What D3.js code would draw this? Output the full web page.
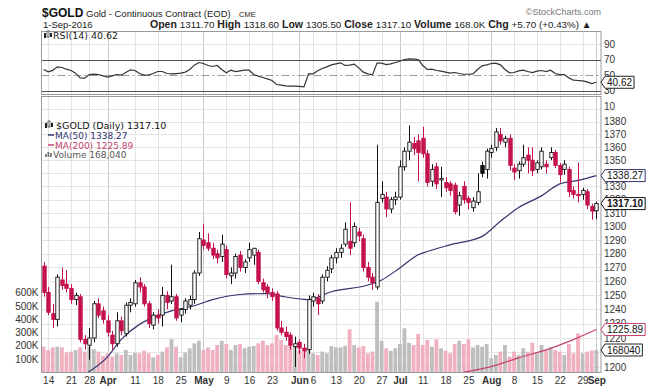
<!DOCTYPE html>
<html>
<head>
<meta charset="utf-8">
<title>$GOLD Daily</title>
<script src="https://cdn.jsdelivr.net/npm/d3@7"></script>
<style>
  html, body { margin: 0; padding: 0; background: #fff; overflow: hidden; }
  svg { display: block; font-family: "Liberation Sans", Arial, sans-serif; }
  .grid line { stroke: #e4e4e4; shape-rendering: crispEdges; }
  .grid line.month { stroke: #c6c6c6; }
  .axis text { fill: #333; font-size: 10px; }
  .axis path, .axis line { display: none; }
  .legend { font-family: "DejaVu Sans", Verdana, sans-serif; font-size: 9px; }
</style>
</head>
<body>
<svg id="chart" width="661" height="386"></svg>
<script>
// trading days, 11-Mar-2016 .. 1-Sep-2016
const dates = [
  "03-11","03-14","03-15","03-16","03-17","03-18","03-21","03-22","03-23","03-24","03-28","03-29","03-30","03-31",
  "04-01","04-04","04-05","04-06","04-07","04-08","04-11","04-12","04-13","04-14","04-15","04-18","04-19","04-20","04-21","04-22","04-25","04-26","04-27","04-28","04-29",
  "05-02","05-03","05-04","05-05","05-06","05-09","05-10","05-11","05-12","05-13","05-16","05-17","05-18","05-19","05-20","05-23","05-24","05-25","05-26","05-27","05-31",
  "06-01","06-02","06-03","06-06","06-07","06-08","06-09","06-10","06-13","06-14","06-15","06-16","06-17","06-20","06-21","06-22","06-23","06-24","06-27","06-28","06-29","06-30",
  "07-01","07-05","07-06","07-07","07-08","07-11","07-12","07-13","07-14","07-15","07-18","07-19","07-20","07-21","07-22","07-25","07-26","07-27","07-28","07-29",
  "08-01","08-02","08-03","08-04","08-05","08-08","08-09","08-10","08-11","08-12","08-15","08-16","08-17","08-18","08-19","08-22","08-23","08-24","08-25","08-26","08-29","08-30","08-31",
  "09-01"
];
const open = [
  1271,1252,1237,1233,1261,1258,1255,1247,1249,1219, 1215,1220,1244,1239,1232,1222,1216,1232,1223,1243,
  1244,1259,1256,1244,1229,1236,1236,1250,1246,1249, 1236,1240,1243,1247,1266,1290,1288,1284,1280,1278,
  1283,1264,1266,1279,1270,1277,1279,1281,1259,1256, 1252,1251,1227,1224,1222,1214,1217,1213,1212,1246,
  1248,1246,1263,1269,1277,1281,1287,1289,1288,1296, 1291,1270,1263,1256,1321,1322,1313,1320,1322,1345,
  1357,1363,1365,1367,1355,1334,1345,1335,1333,1332, 1331,1316,1330,1321,1314,1318,1346,1343,1356,1360,
  1370,1364,1367,1344,1342,1347,1354,1350,1343,1345, 1347,1352,1356,1346,1343,1343,1327,1324,1324,1326,
  1315,1311.7
];
const high = [
  1274,1256,1244,1265,1270,1268,1258,1252,1251,1222, 1227,1246,1248,1242,1236,1225,1238,1235,1245,1248,
  1261,1263,1258,1246,1238,1240,1256,1253,1272,1251, 1241,1248,1250,1268,1296,1302,1295,1288,1283,1294,
  1286,1270,1280,1282,1276,1288,1284,1283,1262,1258, 1255,1253,1232,1228,1224,1221,1219,1216,1250,1252,
  1251,1265,1271,1279,1284,1287,1303,1318,1303,1299, 1294,1274,1266,1362,1334,1326,1322,1326,1350,1360,
  1377,1368,1370,1376,1358,1347,1348,1345,1337,1334, 1333,1326,1334,1323,1322,1340,1349,1359,1362,1375,
  1375,1369,1370,1347,1349,1362,1360,1360,1350,1360, 1350,1360,1358,1348,1350,1345,1330,1348,1329,1328,
  1317,1318.6
];
const low = [
  1249,1236,1227,1228,1254,1252,1244,1243,1217,1212, 1205,1217,1234,1230,1221,1212,1214,1222,1221,1238,
  1242,1252,1242,1227,1226,1230,1228,1240,1244,1232, 1231,1237,1240,1244,1264,1283,1282,1276,1273,1274,
  1262,1258,1262,1267,1266,1274,1272,1258,1252,1248, 1246,1225,1222,1218,1212,1200,1209,1206,1209,1242,
  1236,1244,1260,1266,1273,1277,1285,1279,1285,1289, 1267,1260,1254,1254,1318,1307,1310,1316,1320,1342,
  1350,1354,1334,1352,1330,1330,1328,1322,1326,1323, 1309,1308,1317,1313,1311,1316,1337,1336,1352,1357,
  1362,1360,1342,1335,1336,1345,1340,1338,1340,1343, 1340,1350,1344,1333,1339,1322,1321,1318,1320,1313,
  1305,1305.5
];
const close = [
  1252,1238,1233,1263,1257,1255,1247,1250,1219,1216, 1220,1244,1236,1233,1224,1216,1232,1225,1243,1245,
  1259,1256,1244,1230,1236,1234,1250,1245,1249,1234, 1240,1246,1247,1266,1291,1286,1284,1279,1277,1287,
  1265,1266,1278,1270,1274,1283,1284,1260,1254,1252, 1249,1227,1224,1221,1215,1216,1213,1211,1247,1249,
  1244,1263,1268,1277,1281,1284,1298,1284,1300,1293, 1270,1263,1259,1318,1324,1313,1320,1322,1345,1357,
  1364,1359,1356,1355,1333,1343,1332,1336,1329,1327, 1311,1323,1320,1318,1319,1326,1340,1357,1359,1372,
  1365,1367,1346,1341,1347,1352,1350,1342,1348,1357, 1345,1356,1346,1339,1347,1326,1324,1323,1327,1316,
  1311.4,1317.1
];
// volume in thousands
const volume = [
  193,168,188,193,188,148,156,168,188,156, 193,173,156,123,143,118,143,131,168,131,
  148,143,163,143,113,131,156,188,249,193, 113,148,181,218,238,168,188,168,206,238,
  213,168,206,213,181,193,198,218,238,206, 218,281,243,206,223,198,168,156,181,143,
  131,156,143,198,188,188,200,324,206,188, 198,143,156,532,238,181,161,181,213,332,
  223,206,289,206,243,193,249,181,163,143, 213,238,213,249,188,206,193,213,106,131,
  156,206,118,156,131,181,156,223,143,206, 168,188,168,156,131,213,143,294,143,156,
  163,168.04
];
const rsi = [
  57,54,56,60.5,59.7,57.5,55.8,52.4,46.3,45.9, 50.6,51,50.6,48.9,47.2,48.9,50.6,49.8,53.2,56.7,
  55.8,51.9,49.8,49.8,51.9,54.5,54.5,51.9,51.5,51.9, 52.4,53.7,57.1,62.7,66.1,64.8,62.3,61,62.3,57.1,
  52.8,56.2,54.5,55.4,56.2,56.2,50.6,48.5,46.8,45, 42.9,37.7,36.9,36,35.6,35.6,35.2,34.7,51.5,51.5,
  55.4,58.4,60.5,63.1,64.4,65.7,62.3,62.7,64,59.2, 53.7,51.5,50.2,65.3,65.3,63.5,64.4,66.1,67.8,70,
  70.9,70.4,70,62.3,57.1,57.5,55.8,54.9,53.7,52.4, 53.2,51.9,51,51,51.5,57.1,61.8,63.1,64.8,65.3,
  63.1,57.1,52.8,53.2,55.4,56.2,54.5,53.2,54.9,55.8, 54.5,56.2,51.9,50.6,50.6,46.3,43.3,42.9,42.5,41.2,
  39,40.62
];
// moving averages
const ma50Dates = ["03-24","04-01","04-06","04-12","04-14","04-21","04-28","05-04","05-12","05-20","05-25","06-03","06-10","06-22","06-27","07-01","07-08","07-12","07-19","07-28","08-03","08-09","08-16","08-22","08-26","09-01"];
const ma50 = [1195,1207,1219,1229.5,1233,1239,1242.6,1247,1250.6,1251.3,1249.4,1247,1252.6,1257.4,1261,1269.7,1279.2,1281.6,1286.5,1292.7,1303.9,1314.2,1322.9,1332,1334.6,1338.27];
const ma200Dates = ["07-22","08-01","08-09","08-17","08-25","09-01"];
const ma200 = [1196.5,1200.3,1206.3,1211.8,1218.9,1225.89];

const tickDates = ["03-14","03-21","03-28","04-01","04-11","04-18","04-25","05-02","05-09","05-16","05-23","06-01","06-06","06-13","06-20","06-27","07-01","07-11","07-18","07-25","08-01","08-08","08-15","08-22","08-29","09-01"];
const tickLabels = ["14","21","28","Apr","11","18","25","May","9","16","23","Jun","6","13","20","27","Jul","11","18","25","Aug","8","15","22","29","Sep"];
const monthTicks = ["04-01","05-02","06-01","07-01","08-01","09-01"];
const priceTicks = [1200,1210,1220,1230,1240,1250,1260,1270,1280,1290,1300,1310,1320,1330,1340,1350,1360,1370,1380];
const priceGrid = priceTicks.concat([1390]);
const rsiTicks = [10,30,50,70,90];
const volTicks = [100,200,300,400,500,600];

const red = '#c4124a', black = '#111';
const left = 41.5, right = 601;
const rsiTop = 31, rsiBot = 94, mainTop = 96, mainBot = 372;

const svg = d3.select('#chart');
const x = d3.scalePoint().domain(dates).range([43.6, 596.3]);
const yPrice = d3.scaleLog().domain([1200, 1380]).range([367, 121.7]);
const yVol = d3.scaleLinear().domain([0, 600]).range([372.3, 292.7]);
const yRsi = d3.scaleLinear().domain([30, 70]).range([90.5, 59.5]);

const defs = svg.append('defs');
defs.append('clipPath').attr('id', 'clipMain').append('rect')
  .attr('x', left).attr('y', mainTop).attr('width', right - left).attr('height', mainBot - mainTop);
defs.append('clipPath').attr('id', 'clipRsi').append('rect')
  .attr('x', left).attr('y', rsiTop).attr('width', right - left).attr('height', rsiBot - rsiTop);

// ---- header text
svg.append('text').attr('x', 42).attr('y', 17).attr('font-size', 12).attr('font-weight', 'bold')
  .attr('fill', '#111').text('$GOLD');
svg.append('text').attr('x', 86).attr('y', 17).attr('font-size', 9.5).attr('fill', '#222')
  .text('Gold - Continuous Contract (EOD)');
svg.append('text').attr('x', 239).attr('y', 17).attr('font-size', 7.5).attr('fill', '#222').text('CME');
svg.append('text').attr('x', 601).attr('y', 15).attr('font-size', 9).attr('text-anchor', 'end')
  .attr('fill', '#777').text('\u00A9StockCharts.com');
svg.append('text').attr('x', 43).attr('y', 28).attr('font-size', 9.5).attr('fill', '#222').text('1-Sep-2016');

const quote = [['Open', '1311.70'], ['High', '1318.60'], ['Low', '1305.50'], ['Close', '1317.10'],
  ['Volume', '168.0K'], ['Chg', '+5.70 (+0.43%) \u25B2']];
const q = svg.append('text').attr('x', 150).attr('y', 28).attr('font-size', 9.8).attr('fill', '#222');
quote.forEach(([k, v], i) => {
  q.append('tspan').attr('font-weight', 'bold').attr('font-size', 10.5).text((i ? ' ' : '') + k + ' ');
  q.append('tspan').text(v);
});

// ---- grids
function vGrid(y0, y1) {
  svg.append('g').attr('class', 'grid').selectAll('line').data(tickDates).join('line')
    .attr('class', d => monthTicks.includes(d) ? 'month' : null)
    .attr('x1', d => Math.round(x(d)) + 0.5).attr('x2', d => Math.round(x(d)) + 0.5)
    .attr('y1', y0).attr('y2', y1);
}
vGrid(rsiTop, rsiBot);
vGrid(mainTop, mainBot);

svg.append('g').attr('class', 'grid').selectAll('line').data(priceGrid).join('line')
  .attr('x1', left).attr('x2', right)
  .attr('y1', d => Math.round(yPrice(d)) + 0.5).attr('y2', d => Math.round(yPrice(d)) + 0.5);

// ---- RSI panel
svg.append('line').attr('x1', left).attr('x2', right).attr('y1', Math.round(yRsi(90)) + 0.5)
  .attr('y2', Math.round(yRsi(90)) + 0.5).attr('stroke', '#e4e4e4');
[70, 30].forEach(v => svg.append('line').attr('x1', left).attr('x2', right)
  .attr('y1', Math.round(yRsi(v)) + 0.5).attr('y2', Math.round(yRsi(v)) + 0.5)
  .attr('stroke', '#555').attr('stroke-width', 1));
svg.append('line').attr('x1', left).attr('x2', right).attr('y1', Math.round(yRsi(50)) + 0.5)
  .attr('y2', Math.round(yRsi(50)) + 0.5).attr('stroke', '#999').attr('stroke-width', 1.2)
  .attr('stroke-dasharray', '8,3,2,3');

svg.append('path').datum(rsi).attr('clip-path', 'url(#clipRsi)')
  .attr('fill', 'none').attr('stroke', '#333').attr('stroke-width', 1.2)
  .attr('d', d3.line().x((d, i) => x(dates[i])).y(d => yRsi(d)));

// ---- volume
svg.append('g').attr('clip-path', 'url(#clipMain)').selectAll('rect').data(volume).join('rect')
  .attr('x', (d, i) => x(dates[i]) - 1.9).attr('width', 3.8)
  .attr('y', d => yVol(d)).attr('height', d => yVol(0) - yVol(d))
  .attr('fill', (d, i) => (i === 0 || close[i] < close[i - 1]) ? '#f1b0bf' : '#bebebe');

// ---- moving averages
svg.append('path').attr('clip-path', 'url(#clipMain)')
  .attr('fill', 'none').attr('stroke', '#c5426e').attr('stroke-width', 1.2)
  .attr('d', d3.line().curve(d3.curveMonotoneX).x((d, i) => x(ma200Dates[i])).y(d => yPrice(d))(ma200));
svg.append('path').attr('clip-path', 'url(#clipMain)')
  .attr('fill', 'none').attr('stroke', '#34346e').attr('stroke-width', 1.2)
  .attr('d', d3.line().curve(d3.curveMonotoneX).x((d, i) => x(ma50Dates[i])).y(d => yPrice(d))(ma50));

// ---- candles
const candles = svg.append('g').attr('clip-path', 'url(#clipMain)')
  .selectAll('g').data(dates).join('g');
const col = i => (i === 0 || close[i] < close[i - 1]) ? red : black;
candles.append('line')
  .attr('x1', d => Math.round(x(d)) + 0.5).attr('x2', d => Math.round(x(d)) + 0.5)
  .attr('y1', (d, i) => yPrice(high[i])).attr('y2', (d, i) => yPrice(low[i]))
  .attr('stroke', (d, i) => col(i)).attr('stroke-width', 1);
candles.append('rect')
  .attr('x', d => Math.round(x(d)) - 1.2).attr('width', 3.4)
  .attr('y', (d, i) => yPrice(Math.max(open[i], close[i])))
  .attr('height', (d, i) => Math.max(1, Math.abs(yPrice(open[i]) - yPrice(close[i]))))
  .attr('fill', (d, i) => close[i] < open[i] ? col(i) : '#fff')
  .attr('stroke', (d, i) => col(i)).attr('stroke-width', 0.9);

// ---- panel frames
[[rsiTop, rsiBot], [mainTop, mainBot]].forEach(([a, b]) =>
  svg.append('rect').attr('x', left).attr('y', a + 0.5).attr('width', right - left).attr('height', b - a)
    .attr('fill', 'none').attr('stroke', '#9a9a9a').attr('stroke-width', 1));

// ---- axes
svg.append('g').attr('class', 'axis').attr('transform', `translate(${right},0)`)
  .call(d3.axisRight(yPrice).tickValues(priceTicks).tickFormat(d3.format('d')).tickSize(0).tickPadding(3));
svg.append('g').attr('class', 'axis').attr('transform', `translate(${right},0)`)
  .call(d3.axisRight(yRsi).tickValues(rsiTicks).tickSize(0).tickPadding(3));
svg.append('g').attr('class', 'axis').attr('transform', `translate(${left - 2},0)`)
  .call(d3.axisLeft(yVol).tickValues(volTicks).tickFormat(d => d + 'K').tickSize(0).tickPadding(1));
const xAxis = svg.append('g').attr('class', 'axis').attr('transform', `translate(0,${mainBot + 2})`)
  .call(d3.axisBottom(x).tickValues(tickDates).tickFormat((d, i) => tickLabels[i]).tickSize(0).tickPadding(3));
xAxis.selectAll('text').attr('font-weight', d => monthTicks.includes(d) ? 'bold' : null)
  .attr('font-size', d => monthTicks.includes(d) ? 10.5 : 10);

// ---- legends
const lg = svg.append('g').attr('class', 'legend');
function candleIcon(g, x0, y0) {
  g.append('rect').attr('x', x0).attr('y', y0 - 6).attr('width', 2).attr('height', 5).attr('fill', '#222');
  g.append('rect').attr('x', x0 + 3).attr('y', y0 - 8).attr('width', 2).attr('height', 6).attr('fill', '#fff').attr('stroke', '#222').attr('stroke-width', 0.7);
  g.append('rect').attr('x', x0 + 6).attr('y', y0 - 6).attr('width', 2).attr('height', 4).attr('fill', '#222');
}
candleIcon(lg, 44, 39);
lg.append('text').attr('x', 53).attr('y', 39).attr('font-size', 9.5).attr('fill', '#222').text('RSI(14) 40.62');
candleIcon(lg, 45, 129);
lg.append('text').attr('x', 56).attr('y', 129).attr('font-size', 9.5).attr('fill', '#111').text('$GOLD (Daily) 1317.10');
lg.append('line').attr('x1', 48).attr('x2', 54).attr('y1', 135).attr('y2', 135).attr('stroke', '#34346e').attr('stroke-width', 1.5);
lg.append('text').attr('x', 55).attr('y', 138.5).attr('fill', '#34346e').text('MA(50) 1338.27');
lg.append('line').attr('x1', 48).attr('x2', 54).attr('y1', 145).attr('y2', 145).attr('stroke', '#c5426e').attr('stroke-width', 1.5);
lg.append('text').attr('x', 55).attr('y', 148.5).attr('fill', '#c5426e').text('MA(200) 1225.89');
[3, 5, 4].forEach((h, i) => lg.append('rect').attr('x', 45 + i * 2.5).attr('y', 157 - h).attr('width', 1.8).attr('height', h).attr('fill', '#777'));
lg.append('text').attr('x', 53).attr('y', 157.5).attr('fill', '#555').text('Volume 168,040');

// ---- last value tags
function tag(y, text, stroke, bold) {
  const g = svg.append('g').attr('transform', `translate(${right},${y})`);
  const t = g.append('text').attr('x', 6).attr('dy', '0.35em').attr('font-size', 10)
    .attr('font-weight', bold ? 'bold' : null).attr('fill', '#111').text(text);
  const w = t.node().getComputedTextLength() + 8;
  g.insert('path', 'text').attr('d', `M0,0L4,-6H${w}V6H4Z`).attr('fill', '#fff')
    .attr('stroke', stroke).attr('stroke-width', 1);
}
tag(yRsi(rsi[rsi.length - 1]), '40.62', '#222');
tag(yPrice(ma50[ma50.length - 1]), '1338.27', '#34346e');
tag(yPrice(close[close.length - 1]), '1317.10', '#111', true);
tag(yPrice(ma200[ma200.length - 1]), '1225.89', '#c5426e');
tag(yVol(volume[volume.length - 1]), '168040', '#222');
</script>
</body>
</html>
